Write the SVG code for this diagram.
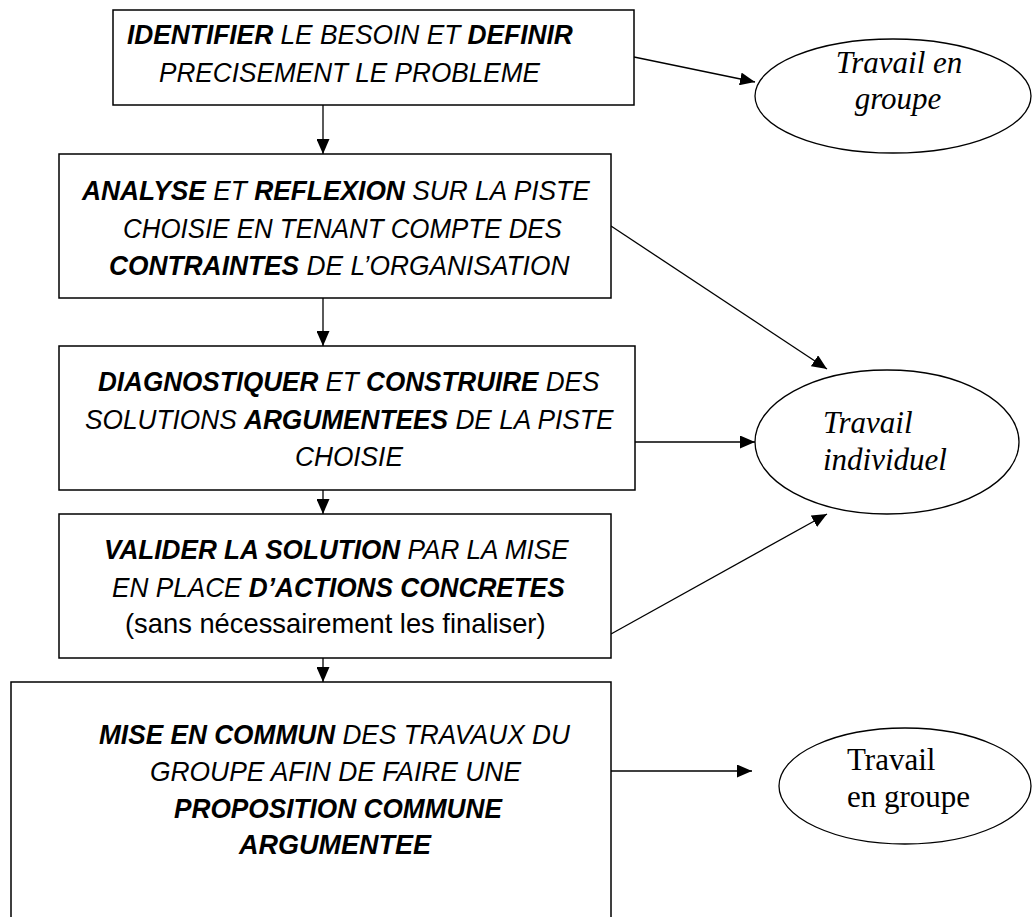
<svg xmlns="http://www.w3.org/2000/svg" width="1033" height="917" viewBox="0 0 1033 917">
<style>
.box{fill:#fff;stroke:#000;stroke-width:1.5}
.ell{fill:#fff;stroke:#000;stroke-width:1.3}
.t{font-family:"Liberation Sans",Arial,sans-serif;font-size:28px;font-style:italic;fill:#000}
.r{font-family:"Liberation Sans",Arial,sans-serif;font-size:28px;fill:#000}
.b{font-weight:bold}
.si{font-family:"Liberation Serif","Times New Roman",serif;font-size:31px;font-style:italic;fill:#000}
.s{font-family:"Liberation Serif","Times New Roman",serif;font-size:31px;fill:#000}
.c{fill:none;stroke:#000;stroke-width:1.3}
</style>
<defs>
<marker id="ah" markerUnits="userSpaceOnUse" markerWidth="15" markerHeight="13" refX="15" refY="6.5" orient="auto">
<path d="M0,0 L15,6.5 L0,13 z" fill="#000"/>
</marker>
</defs>
<rect width="1033" height="917" fill="#fff"/>
<g id="connectors">
<line class="c" x1="323" y1="105" x2="323" y2="154" marker-end="url(#ah)"/>
<line class="c" x1="323" y1="298" x2="323" y2="346" marker-end="url(#ah)"/>
<line class="c" x1="323" y1="490" x2="323" y2="514" marker-end="url(#ah)"/>
<line class="c" x1="323" y1="658" x2="323" y2="682" marker-end="url(#ah)"/>
<line class="c" x1="634" y1="57" x2="755" y2="82" marker-end="url(#ah)"/>
<line class="c" x1="611" y1="226" x2="827" y2="369" marker-end="url(#ah)"/>
<line class="c" x1="635" y1="442" x2="755" y2="442" marker-end="url(#ah)"/>
<line class="c" x1="611" y1="634" x2="827" y2="514" marker-end="url(#ah)"/>
<line class="c" x1="611" y1="771" x2="752" y2="771" marker-end="url(#ah)"/>
</g>
<g id="box1">
<rect class="box" x="113" y="10" width="521" height="95"/>
<text class="t" transform="translate(127,44) scale(0.94,1)"><tspan class="b">IDENTIFIER</tspan> LE BESOIN ET <tspan class="b">DEFINIR</tspan></text>
<text class="t" transform="translate(159,82) scale(0.935,1)">PRECISEMENT LE PROBLEME</text>
</g>
<g id="box2">
<rect class="box" x="59" y="154" width="552" height="144"/>
<text class="t" transform="translate(82,200) scale(0.941,1)"><tspan class="b">ANALYSE</tspan> ET <tspan class="b">REFLEXION</tspan> SUR LA PISTE</text>
<text class="t" transform="translate(123,238) scale(0.925,1)">CHOISIE EN TENANT COMPTE DES</text>
<text class="t" transform="translate(109,275) scale(0.941,1)"><tspan class="b">CONTRAINTES</tspan> DE L’ORGANISATION</text>
</g>
<g id="box3">
<rect class="box" x="59" y="346" width="576" height="144"/>
<text class="t" transform="translate(98,391) scale(0.932,1)"><tspan class="b">DIAGNOSTIQUER</tspan> ET <tspan class="b">CONSTRUIRE</tspan> DES</text>
<text class="t" transform="translate(85,429) scale(0.938,1)">SOLUTIONS <tspan class="b">ARGUMENTEES</tspan> DE LA PISTE</text>
<text class="t" transform="translate(295,466) scale(0.938,1)">CHOISIE</text>
</g>
<g id="box4">
<rect class="box" x="59" y="514" width="552" height="144"/>
<text class="t" transform="translate(104,559) scale(0.934,1)"><tspan class="b">VALIDER LA SOLUTION</tspan> PAR LA MISE</text>
<text class="t" transform="translate(112,597) scale(0.936,1)">EN PLACE <tspan class="b">D’ACTIONS CONCRETES</tspan></text>
<text class="r" transform="translate(125,633) scale(0.976,1)">(sans nécessairement les finaliser)</text>
</g>
<g id="box5">
<rect class="box" x="11" y="682" width="600" height="260"/>
<text class="t" transform="translate(99,744) scale(0.9375,1)"><tspan class="b">MISE EN COMMUN</tspan> DES TRAVAUX DU</text>
<text class="t" transform="translate(150,781) scale(0.943,1)">GROUPE AFIN DE FAIRE UNE</text>
<text class="t b" transform="translate(174,818) scale(0.937,1)">PROPOSITION COMMUNE</text>
<text class="t b" transform="translate(239,854) scale(0.964,1)">ARGUMENTEE</text>
</g>
<g id="ellipse1">
<ellipse class="ell" cx="893" cy="96" rx="138" ry="57"/>
<text class="si" x="899" y="73" text-anchor="middle">Travail en</text>
<text class="si" x="898" y="109" text-anchor="middle">groupe</text>
</g>
<g id="ellipse2">
<ellipse class="ell" cx="887" cy="442" rx="132" ry="72"/>
<text class="si" x="823" y="433">Travail</text>
<text class="si" x="823" y="470">individuel</text>
</g>
<g id="ellipse3">
<ellipse class="ell" cx="905" cy="786" rx="126" ry="58"/>
<text class="s" x="847" y="770">Travail</text>
<text class="s" x="847" y="807">en groupe</text>
</g>
</svg>
